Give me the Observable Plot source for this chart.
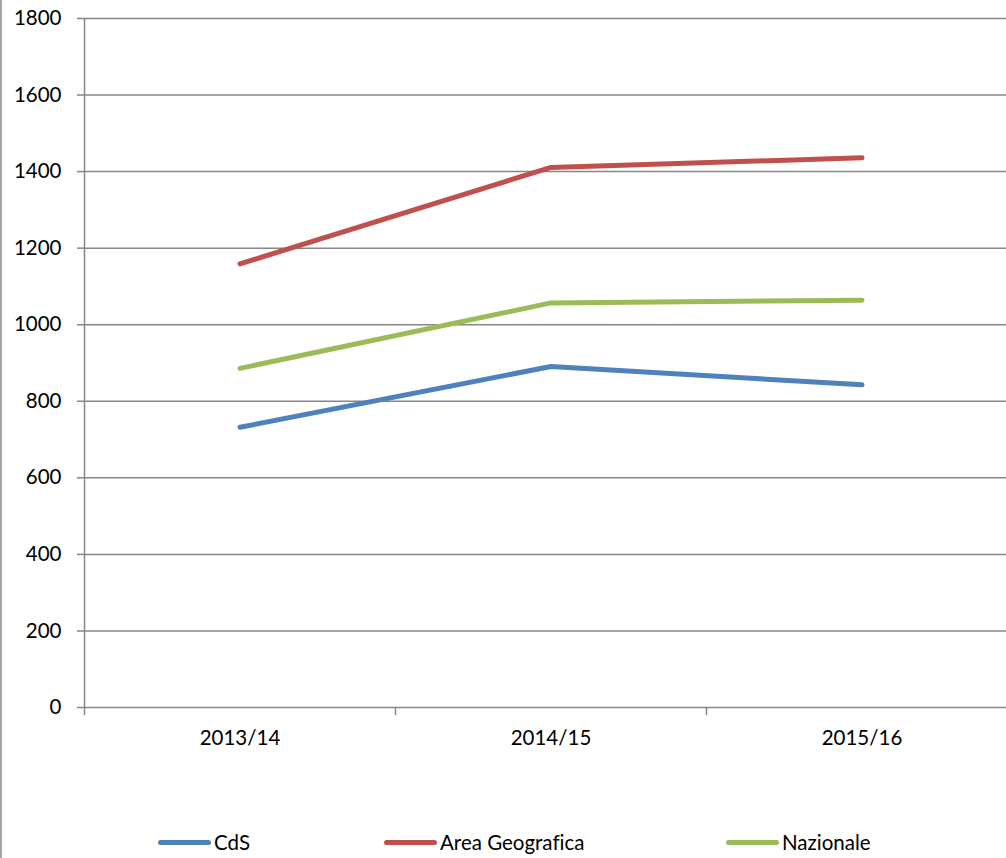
<!DOCTYPE html>
<html>
<head>
<meta charset="utf-8">
<script src="https://cdn.jsdelivr.net/npm/d3@7"></script>
<script src="https://cdn.jsdelivr.net/npm/@observablehq/plot@0.6"></script>
<style>
  html, body { margin: 0; padding: 0; background: #fff; }
  #wrap { position: relative; width: 1006px; height: 858px; overflow: hidden; font-family: Lato, "Open Sans", sans-serif; font-variant-ligatures: none; }
  #wrap::before { content: ""; position: absolute; left: 0; top: 0; bottom: 0; width: 0; border-left: 2px solid #a6a6a6; z-index: 2; }
  #legend { position: absolute; left: 0; top: 800px; width: 1006px; height: 58px; }
  .item { position: absolute; top: 30px; display: flex; align-items: center; font-size: 20.5px; color: #000; }
  .sw { width: 53px; height: 5px; border-radius: 3px; margin-right: 3px; }
  svg text { font-variant-ligatures: none; }
</style>
</head>
<body>
<div id="wrap"><div id="chart"></div><div id="legend"></div></div>
<script>
const categories = ["2013/14", "2014/15", "2015/16"];
const seriesNames = ["CdS", "Area Geografica", "Nazionale"];
const cds = [732, 891, 843];
const areaGeografica = [1159, 1411, 1436];
const nazionale = [886, 1057, 1064];
const seriesColors = ["#4F81BD", "#C0504D", "#9BBB59"];
const yTicks = [0, 200, 400, 600, 800, 1000, 1200, 1400, 1600, 1800];

const seriesValues = [cds, areaGeografica, nazionale];
const data = [];
seriesNames.forEach((s, k) => seriesValues[k].forEach((v, i) => data.push({series: s, i, value: v})));

const xDomain = [-0.5, categories.length - 0.5];
const boundaries = d3.range(categories.length + 1).map(k => k - 0.5);
const centers = d3.range(categories.length);
const grid = "#868686";

const chart = Plot.plot({
  width: 1006,
  height: 800,
  marginTop: 18,
  marginBottom: 93,
  marginLeft: 84,
  marginRight: 0,
  style: {fontFamily: "Lato, 'Open Sans', sans-serif", fontSize: "20.5px", color: "#000", background: "transparent"},
  x: {type: "linear", domain: xDomain, range: [84, 1017], axis: null},
  y: {domain: [0, 1800], axis: null},
  color: {domain: seriesNames, range: seriesColors},
  marks: [
    Plot.gridY(yTicks, {stroke: grid, strokeOpacity: 1, strokeWidth: 1.5}),
    Plot.ruleX([xDomain[0]], {stroke: grid, strokeWidth: 1.5}),
    Plot.axisY(yTicks, {tickSize: 7, tickPadding: 16, tickFormat: d => String(d), stroke: grid, strokeWidth: 1.5, fill: "#000", label: null, fontSize: 20.5}),
    Plot.axisX(boundaries, {tickSize: 8, tickFormat: () => "", stroke: grid, strokeWidth: 1.5, label: null}),
    Plot.axisX(centers, {tickSize: 0, tickPadding: 23, tickFormat: i => categories[i], fill: "#000", label: null, fontSize: 20.5}),
    Plot.line(data, {x: "i", y: "value", z: "series", stroke: "series", strokeWidth: 5, strokeLinecap: "round", strokeLinejoin: "round", curve: "linear"})
  ]
});
document.getElementById("chart").appendChild(chart);

const legendLefts = [158, 384, 726];
const legend = document.getElementById("legend");
seriesNames.forEach((s, k) => {
  const it = document.createElement("div");
  it.className = "item";
  it.style.left = legendLefts[k] + "px";
  const sw = document.createElement("span");
  sw.className = "sw";
  sw.style.background = seriesColors[k];
  const tx = document.createElement("span");
  tx.textContent = s;
  it.appendChild(sw); it.appendChild(tx);
  legend.appendChild(it);
});
</script>
</body>
</html>
